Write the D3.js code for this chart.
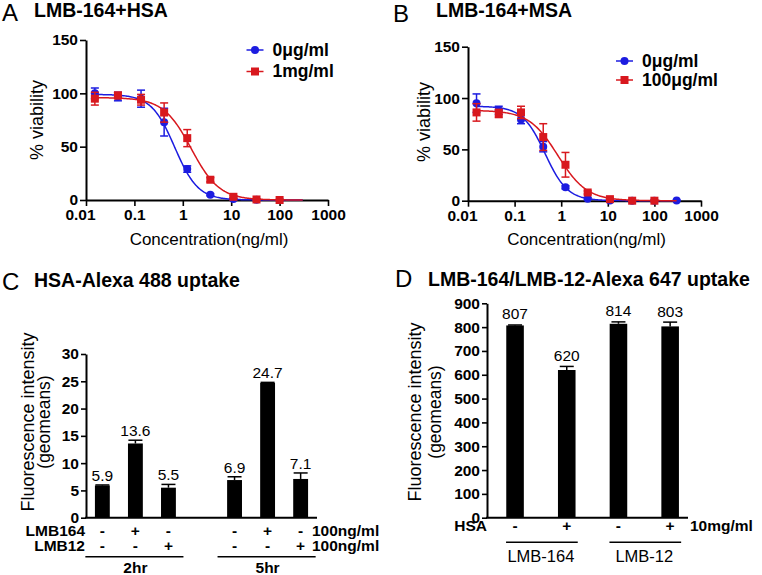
<!DOCTYPE html>
<html>
<head>
<meta charset="utf-8">
<script src="https://cdn.jsdelivr.net/npm/d3@7"></script>
<style>
  body { margin: 0; background: #fff; }
  text { font-family: "Liberation Sans", Arial, Helvetica, sans-serif; }
</style>
</head>
<body>
<script>

//
// Panel A: LMB-164 + HSA (threefold dilutions, ng/ml)
//
var concA = [0.01524, 0.0457, 0.1372, 0.4115, 1.235, 3.704, 11.11, 33.33, 100];
var hsaNone = [100, 97, 95, 73, 29, 5, 1, 0.3, 0];
var hsaNoneErr = [5, 4, 8, 13, 3, 1, 0.5, 0.3, 0.3];
var hsaHigh = [95, 98, 94, 82, 58, 19, 3, 0.5, 0];
var hsaHighErr = [6, 3, 5, 9, 8, 2, 1, 0.5, 0.3];
// fitted curves [0ug/ml, 1mg/ml]: top, IC50, hill
var hsaFitTop = [99, 96];
var hsaFitIC50 = [0.68, 1.5];
var hsaFitHill = [1.8, 1.5];
var hsaLegend = ["0\u03bcg/ml", "1mg/ml"];

//
// Panel B: LMB-164 + MSA
//
var concB = [0.01524, 0.0457, 0.1372, 0.4115, 1.235, 3.704, 11.11, 33.33, 100, 300];
var msaNone = [95, 88, 79, 52.6, 13, 2, 0.3, 0, 0, 0.3];
var msaNoneErr = [9, 4, 4, 5, 1.5, 1, 0.5, 0.3, 0.3, 0.3];
var msaHigh = [86, 85, 86, 62, 35, 8, 1.5, 0, 0];
var msaHighErr = [8.5, 4, 6, 13, 12, 1.5, 1, 0.3, 0.3];
var msaFitTop = [92, 88];
var msaFitIC50 = [0.45, 0.85];
var msaFitHill = [1.8, 1.4];
var msaLegend = ["0\u03bcg/ml", "100\u03bcg/ml"];

var logTicks = [0.01, 0.1, 1, 10, 100, 1000];
var viabilityTicks = [0, 50, 100, 150];

//
// Panel C: HSA-Alexa 488 uptake
//
var uptakeSlots = [0, 1, 2, 4, 5, 6];   // slot 3 is the gap between 2hr and 5hr
var uptakeVals = [5.9, 13.6, 5.5, 6.9, 24.7, 7.1];
var uptakeErr = [0.1, 0.6, 0.6, 0.6, 0.1, 1.1];
var uptakeLMB164 = ["-", "+", "-", "-", "+", "-"];
var uptakeLMB12 = ["-", "-", "+", "-", "-", "+"];
var uptakeGroups = ["2hr", "5hr"];
var uptakeTicks = [0, 5, 10, 15, 20, 25, 30];

//
// Panel D: LMB-164/LMB-12-Alexa 647 uptake
//
var bindVals = [807, 620, 814, 803];
var bindErr = [2, 15, 8, 18];
var bindHSA = ["-", "+", "-", "+"];
var bindGroups = ["LMB-164", "LMB-12"];
var bindTicks = [0, 100, 200, 300, 400, 500, 600, 700, 800, 900];

var blue = "#1c1ce0", red = "#d8181e";

var svg = d3.select("body").append("svg")
    .attr("width", 762)
    .attr("height", 575);

function styleAxis(g, fs) {
  g.select(".domain").attr("stroke", "#000").attr("stroke-width", 2);
  g.selectAll(".tick line").attr("stroke", "#000").attr("stroke-width", 1.6);
  g.selectAll(".tick text")
    .attr("fill", "#000")
    .style("font-size", (fs || 15.5) + "px")
    .style("font-weight", "bold")
    .style("font-family", '"Liberation Sans", Arial, sans-serif');
}

function panelTitle(letter, lx, ly, title, tx, ty) {
  svg.append("text").attr("x", lx).attr("y", ly)
    .style("font-size", "24px").text(letter);
  svg.append("text").attr("x", tx).attr("y", ty)
    .style("font-size", "19.5px").style("font-weight", "bold").text(title);
}

//
// dose response panel, with error bars and fitted curves
//
function dosePanel(p) {
  var x = d3.scaleLog().domain([0.01, 1000]).range([p.left, p.right]);
  var y = d3.scaleLinear().domain([0, 150]).range([p.bottom, p.top]);

  var gx = svg.append("g")
    .attr("transform", "translate(0," + p.bottom + ")")
    .call(d3.axisBottom(x).tickValues(logTicks).tickFormat(d3.format("~g"))
      .tickSize(6).tickSizeOuter(0).tickPadding(3))
    .call(styleAxis);
  // first label sits a little left of the y axis, as in the original
  gx.selectAll(".tick text").filter(function(d) { return d == 0.01; }).attr("dx", -6);

  svg.append("g")
    .attr("transform", "translate(" + p.left + ",0)")
    .call(d3.axisLeft(y).tickValues(viabilityTicks).tickSize(6).tickSizeOuter(0).tickPadding(2))
    .call(styleAxis);

  svg.append("text")
    .attr("transform", "translate(" + p.ytx + "," + p.yty + ") rotate(-90)")
    .attr("text-anchor", "middle")
    .style("font-size", "18px")
    .text("% viability");

  svg.append("text")
    .attr("x", (p.left + p.right) / 2 + 2).attr("y", 245)
    .attr("text-anchor", "middle")
    .style("font-size", "17px")
    .text("Concentration(ng/ml)");

  p.series.forEach(function(s, k) {
    // fitted curve
    var lo = Math.log10(p.curveFrom), hi = Math.log10(p.curveTo);
    var xs = d3.range(0, 201).map(function(i) { return Math.pow(10, lo + (hi - lo) * i / 200); });
    var line = d3.line()
      .x(function(c) { return x(c); })
      .y(function(c) { return y(s.top / (1 + Math.pow(c / s.ic50, s.hill))); });
    svg.append("path")
      .datum(xs)
      .attr("d", line)
      .attr("fill", "none")
      .attr("stroke", s.color)
      .attr("stroke-width", 1.5);

    // error bars
    var g = svg.append("g").attr("stroke", s.color).attr("stroke-width", 1.5);
    s.vals.forEach(function(v, i) {
      var cx = x(p.conc[i]);
      var e = s.errs[i];
      g.append("line").attr("x1", cx).attr("x2", cx).attr("y1", y(v - e)).attr("y2", y(v + e));
      g.append("line").attr("x1", cx - 4).attr("x2", cx + 4).attr("y1", y(v + e)).attr("y2", y(v + e));
      g.append("line").attr("x1", cx - 4).attr("x2", cx + 4).attr("y1", y(v - e)).attr("y2", y(v - e));
    });

    // markers
    s.vals.forEach(function(v, i) {
      drawMarker(s.shape, x(p.conc[i]), y(v), s.color);
    });

    // legend
    var ly = p.legY[k];
    svg.append("line")
      .attr("x1", p.legX).attr("x2", p.legX + 17)
      .attr("y1", ly).attr("y2", ly)
      .attr("stroke", s.color).attr("stroke-width", 1.5);
    drawMarker(s.shape, p.legX + 8.5, ly, s.color);
    svg.append("text")
      .attr("x", p.legX + 26).attr("y", ly + 5.5)
      .style("font-size", "17.5px").style("font-weight", "bold")
      .text(s.label);
  });
}

function drawMarker(shape, cx, cy, color) {
  if (shape == "circle") {
    svg.append("circle").attr("cx", cx).attr("cy", cy).attr("r", 4).attr("fill", color);
  } else {
    svg.append("rect").attr("x", cx - 4).attr("y", cy - 4)
      .attr("width", 8).attr("height", 8).attr("fill", color);
  }
}

//
// bar panels
//
function barAxes(p, x, y, ticks) {
  svg.append("g")
    .attr("transform", "translate(" + p.left + ",0)")
    .call(d3.axisLeft(y).tickValues(ticks).tickSize(5).tickSizeOuter(0).tickPadding(2))
    .call(function(g) { styleAxis(g, 15.5); });

  svg.append("line")
    .attr("x1", p.left - 1).attr("x2", p.axisEnd)
    .attr("y1", y(0)).attr("y2", y(0))
    .attr("stroke", "#000").attr("stroke-width", 2);

  svg.append("text")
    .attr("transform", "translate(" + p.t1x + "," + p.ty + ") rotate(-90)")
    .attr("text-anchor", "middle").style("font-size", "18px")
    .text("Fluorescence intensity");
  svg.append("text")
    .attr("transform", "translate(" + p.t2x + "," + p.ty + ") rotate(-90)")
    .attr("text-anchor", "middle").style("font-size", "17.5px")
    .text("(geomeans)");
}

function drawBars(x, y, slots, vals, errs, capW, labelGap) {
  var bw = x.bandwidth();
  vals.forEach(function(v, i) {
    var bx = x(slots[i]);
    var cx = bx + bw / 2;
    svg.append("rect")
      .attr("x", bx).attr("y", y(v))
      .attr("width", bw).attr("height", y(0) - y(v))
      .attr("fill", "#000");
    var top = y(v + errs[i]);
    svg.append("line").attr("x1", cx).attr("x2", cx).attr("y1", y(v)).attr("y2", top)
      .attr("stroke", "#000").attr("stroke-width", 1.5);
    svg.append("line").attr("x1", cx - capW / 2).attr("x2", cx + capW / 2).attr("y1", top).attr("y2", top)
      .attr("stroke", "#000").attr("stroke-width", 1.5);
    svg.append("text")
      .attr("x", cx).attr("y", top - labelGap)
      .attr("text-anchor", "middle")
      .style("font-size", "15.5px")
      .text(v);
  });
}

// ---- A ----
panelTitle("A", 2, 20.5, "LMB-164+HSA", 34, 17);
dosePanel({
  left: 86, right: 328, top: 40, bottom: 200,
  conc: concA, curveFrom: 0.01524, curveTo: 300,
  ytx: 43, yty: 120,
  legX: 246.5, legY: [50, 71.5],
  series: [
    {vals: hsaNone, errs: hsaNoneErr, top: hsaFitTop[0], ic50: hsaFitIC50[0], hill: hsaFitHill[0],
     color: blue, shape: "circle", label: hsaLegend[0]},
    {vals: hsaHigh, errs: hsaHighErr, top: hsaFitTop[1], ic50: hsaFitIC50[1], hill: hsaFitHill[1],
     color: red, shape: "square", label: hsaLegend[1]}
  ]
});

// ---- B ----
panelTitle("B", 393, 21.5, "LMB-164+MSA", 436, 17);
dosePanel({
  left: 468, right: 701, top: 46.7, bottom: 200.7,
  conc: concB, curveFrom: 0.01524, curveTo: 300,
  ytx: 429.5, yty: 122,
  legX: 616, legY: [61, 80],
  series: [
    {vals: msaNone, errs: msaNoneErr, top: msaFitTop[0], ic50: msaFitIC50[0], hill: msaFitHill[0],
     color: blue, shape: "circle", label: msaLegend[0]},
    {vals: msaHigh, errs: msaHighErr, top: msaFitTop[1], ic50: msaFitIC50[1], hill: msaFitHill[1],
     color: red, shape: "square", label: msaLegend[1]}
  ]
});

// ---- C ----
panelTitle("C", 2, 290, "HSA-Alexa 488 uptake", 34, 287);
var pC = {left: 86, axisEnd: 317, t1x: 34, t2x: 50, ty: 422};
var xC = d3.scaleBand().domain(d3.range(7)).range([86, 317]).paddingInner(0.55).paddingOuter(0.27);
var yC = d3.scaleLinear().domain([0, 30]).range([517.7, 354]);
barAxes(pC, xC, yC, uptakeTicks);
drawBars(xC, yC, uptakeSlots, uptakeVals, uptakeErr, 14, 4);

var bwC = xC.bandwidth();
uptakeSlots.forEach(function(s, i) {
  var cx = xC(s) + bwC / 2;
  svg.append("text").attr("x", cx).attr("y", 535.5).attr("text-anchor", "middle")
    .style("font-size", "15.5px").style("font-weight", "bold").text(uptakeLMB164[i]);
  svg.append("text").attr("x", cx).attr("y", 550.5).attr("text-anchor", "middle")
    .style("font-size", "15.5px").style("font-weight", "bold").text(uptakeLMB12[i]);
});
[["LMB164", 535.5], ["LMB12", 550.5]].forEach(function(r) {
  svg.append("text").attr("x", 85).attr("y", r[1]).attr("text-anchor", "end")
    .style("font-size", "15.5px").style("font-weight", "bold").text(r[0]);
  svg.append("text").attr("x", 312).attr("y", r[1])
    .style("font-size", "15.5px").style("font-weight", "bold").text("100ng/ml");
});
uptakeGroups.forEach(function(gname, k) {
  var a = xC(uptakeSlots[k * 3]) + bwC / 2, b = xC(uptakeSlots[k * 3 + 2]) + bwC / 2;
  svg.append("line").attr("x1", a - 17).attr("x2", b + 15).attr("y1", 556.7).attr("y2", 556.7)
    .attr("stroke", "#000").attr("stroke-width", 1.5);
  svg.append("text").attr("x", (a + b) / 2).attr("y", 573).attr("text-anchor", "middle")
    .style("font-size", "15.5px").style("font-weight", "bold").text(gname);
});

// ---- D ----
panelTitle("D", 395, 287, "LMB-164/LMB-12-Alexa 647 uptake", 428, 286);
var pD = {left: 487, axisEnd: 688, t1x: 420.5, t2x: 441, ty: 412};
var xD = d3.scaleBand().domain(d3.range(4)).range([487, 688])
  .paddingInner(0.66).paddingOuter(0.274).align(0.68);
var yD = d3.scaleLinear().domain([0, 900]).range([517.7, 303.3]);
barAxes(pD, xD, yD, bindTicks);
drawBars(xD, yD, d3.range(4), bindVals, bindErr, 14, 5.5);

var bwD = xD.bandwidth();
bindHSA.forEach(function(sgn, i) {
  svg.append("text").attr("x", xD(i) + bwD / 2).attr("y", 530.5).attr("text-anchor", "middle")
    .style("font-size", "15.5px").style("font-weight", "bold").text(sgn);
});
svg.append("text").attr("x", 487).attr("y", 530.5).attr("text-anchor", "end")
  .style("font-size", "15.5px").style("font-weight", "bold").text("HSA");
svg.append("text").attr("x", 690).attr("y", 530.5)
  .style("font-size", "15.5px").style("font-weight", "bold").text("10mg/ml");
bindGroups.forEach(function(gname, k) {
  var a = xD(k * 2) + bwD / 2, b = xD(k * 2 + 1) + bwD / 2;
  svg.append("line").attr("x1", a - 9).attr("x2", b + 11).attr("y1", 542.3).attr("y2", 542.3)
    .attr("stroke", "#000").attr("stroke-width", 1.5);
  svg.append("text").attr("x", (a + b) / 2).attr("y", 561.5).attr("text-anchor", "middle")
    .style("font-size", "16.5px").text(gname);
});

</script>
</body>
</html>
